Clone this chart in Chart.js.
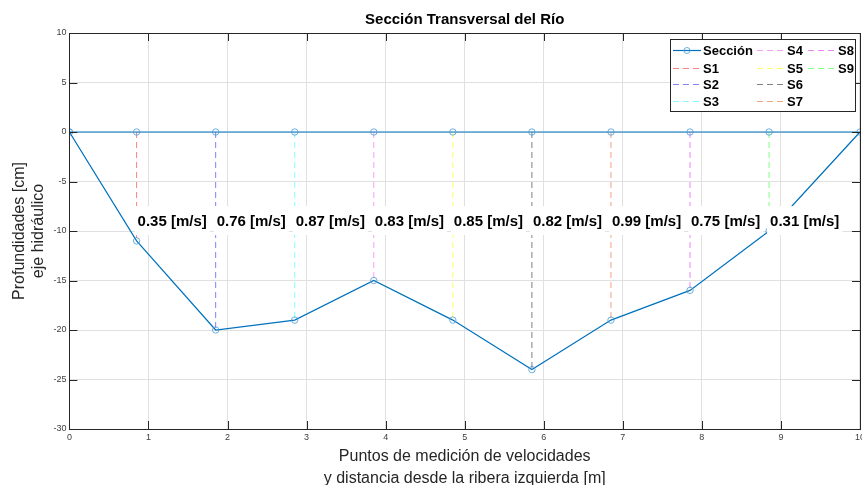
<!DOCTYPE html>
<html>
<head>
<meta charset="utf-8">
<script src="https://cdn.jsdelivr.net/npm/chart.js@4.4.1/dist/chart.umd.min.js"></script>
<style>
  html, body { margin: 0; padding: 0; overflow: hidden; background: #fff; }
  canvas { display: block; }
</style>
</head>
<body>
<canvas id="chart" width="868" height="485"></canvas>
<script>
// Measuring stations across the river section
const stationNames = ['S1', 'S2', 'S3', 'S4', 'S5', 'S6', 'S7', 'S8', 'S9'];
const stationX = [0.85, 1.85, 2.85, 3.85, 4.85, 5.85, 6.85, 7.85, 8.85];      // m from left bank
const stationDepth = [-11, -20, -19, -15, -19, -24, -19, -16, -10];           // cm below water surface
const velocities = [0.35, 0.76, 0.87, 0.83, 0.85, 0.82, 0.99, 0.75, 0.31];     // m/s
const bankX = [0, 10];                                                           // left / right bank
const stationColors = ['#ff8080', '#8080ff', '#80ffff', '#f4a0f4', '#ffff66',
                       '#808080', '#f5a47c', '#e888f0', '#80ff80'];

const FONT = "'Liberation Sans', Arial, Helvetica, sans-serif";
const AXIS_COLOR = '#262626';
const SECTION_COLOR = '#0072BD';
const LABEL_DEPTH = -9;   // depth at which the velocity labels are written

// Section outline: along the bed from bank to bank, then back along the surface
const bedPoints = [{ x: bankX[0], y: 0 }]
  .concat(stationX.map((x, i) => ({ x, y: stationDepth[i] })))
  .concat([{ x: bankX[1], y: 0 }]);
const surfacePoints = stationX.slice().reverse().map(x => ({ x, y: 0 }))
  .concat([{ x: bankX[0], y: 0 }]);
const sectionPoints = bedPoints.concat(surfacePoints);

const datasets = [{
  label: 'Sección',
  data: sectionPoints,
  showLine: true,
  borderColor: SECTION_COLOR,
  borderWidth: 1.2,
  pointStyle: 'circle',
  pointRadius: 3.2,
  pointBorderWidth: 0.8,
  pointBorderColor: '#4a9ad6',
  pointBackgroundColor: 'rgba(0,0,0,0)',
  tension: 0
}];
stationNames.forEach((name, i) => {
  datasets.push({
    label: name,
    data: [{ x: stationX[i], y: 0 }, { x: stationX[i], y: stationDepth[i] }],
    showLine: true,
    borderColor: stationColors[i],
    borderWidth: 1,
    borderDash: [6, 4],
    pointRadius: 0,
    pointHoverRadius: 0
  });
});

// Axes frame with inward tick marks on all four sides
const framePlugin = {
  id: 'frame',
  afterDraw(chart) {
    const { ctx, chartArea: a, scales: { x, y } } = chart;
    const len = 8;
    ctx.save();
    ctx.strokeStyle = AXIS_COLOR;
    ctx.lineWidth = 1;
    ctx.beginPath();
    x.ticks.forEach(t => {
      const px = Math.round(x.getPixelForValue(t.value)) + 0.5;
      ctx.moveTo(px, a.bottom); ctx.lineTo(px, a.bottom - len);
      ctx.moveTo(px, a.top); ctx.lineTo(px, a.top + len);
    });
    y.ticks.forEach(t => {
      const py = Math.round(y.getPixelForValue(t.value)) + 0.5;
      ctx.moveTo(a.left, py); ctx.lineTo(a.left + len, py);
      ctx.moveTo(a.right, py); ctx.lineTo(a.right - len, py);
    });
    ctx.stroke();
    ctx.strokeRect(Math.round(a.left) + 0.5, Math.round(a.top) + 0.5,
                   Math.round(a.right - a.left), Math.round(a.bottom - a.top));
    ctx.restore();
  }
};

// Velocity labels with white background at each station
const labelPlugin = {
  id: 'velocityLabels',
  afterDatasetsDraw(chart) {
    const { ctx, scales: { x, y } } = chart;
    ctx.save();
    ctx.font = `bold 15px ${FONT}`;
    ctx.textBaseline = 'middle';
    ctx.textAlign = 'left';
    const py = y.getPixelForValue(LABEL_DEPTH);
    velocities.forEach((v, i) => {
      const px = x.getPixelForValue(stationX[i]);
      const text = `${v.toFixed(2)} [m/s]`;
      const w = ctx.measureText(text).width;
      ctx.fillStyle = '#ffffff';
      ctx.fillRect(px - 2, py - 15, w + 6, 29);
      ctx.fillStyle = '#000000';
      ctx.fillText(text, px + 1, py + 1);
    });
    ctx.restore();
  }
};

// Three-column legend box in the upper right corner
const legendPlugin = {
  id: 'gridLegend',
  afterDraw(chart) {
    const { ctx, chartArea: a } = chart;
    const boxL = a.right - 190, boxT = a.top + 6, boxW = 185, boxH = 72;
    const columns = [[0, 1, 2, 3], [4, 5, 6, 7], [8, 9]];
    const colX = [boxL + 3, boxL + 87, boxL + 138];
    const sampleW = 28;
    const rowY = [boxT + 11, boxT + 29, boxT + 45, boxT + 62];
    ctx.save();
    ctx.fillStyle = '#ffffff';
    ctx.fillRect(boxL, boxT, boxW, boxH);
    ctx.strokeStyle = AXIS_COLOR;
    ctx.lineWidth = 1;
    ctx.strokeRect(Math.round(boxL) + 0.5, Math.round(boxT) + 0.5, boxW, boxH);
    ctx.font = `bold 13px ${FONT}`;
    ctx.textBaseline = 'middle';
    columns.forEach((col, c) => {
      col.forEach((di, r) => {
        const ds = chart.data.datasets[di];
        const lx = colX[c], ly = Math.round(rowY[r]) + 0.5;
        ctx.strokeStyle = ds.borderColor;
        ctx.lineWidth = ds.borderWidth;
        ctx.setLineDash(ds.borderDash || []);
        ctx.beginPath();
        ctx.moveTo(lx, ly); ctx.lineTo(lx + sampleW, ly);
        ctx.stroke();
        ctx.setLineDash([]);
        if (di === 0) {
          ctx.strokeStyle = ds.pointBorderColor;
          ctx.lineWidth = ds.pointBorderWidth;
          ctx.beginPath();
          ctx.arc(lx + sampleW / 2, ly, 3, 0, Math.PI * 2);
          ctx.stroke();
        }
        ctx.fillStyle = '#000000';
        ctx.fillText(ds.label, lx + sampleW + 2, ly + 1);
      });
    });
    ctx.restore();
  }
};

new Chart(document.getElementById('chart'), {
  type: 'scatter',
  data: { datasets },
  plugins: [labelPlugin, framePlugin, legendPlugin],
  options: {
    responsive: false,
    devicePixelRatio: 1,
    animation: false,
    events: [],
    layout: { padding: { left: 10, right: 0, top: 0, bottom: -4 } },
    plugins: {
      legend: { display: false },
      tooltip: { enabled: false },
      title: {
        display: true,
        fullSize: false,
        text: 'Sección Transversal del Río',
        color: '#000000',
        font: { family: FONT, size: 15, weight: 'bold' },
        padding: { top: 11, bottom: 4 }
      }
    },
    scales: {
      x: {
        type: 'linear',
        min: 0, max: 10,
        ticks: { stepSize: 1, color: '#404040', font: { family: FONT, size: 9 }, padding: 3, maxRotation: 0 },
        grid: { color: '#e0e0e0', lineWidth: 1, drawTicks: false },
        border: { display: false },
        title: {
          display: true,
          text: ['Puntos de medición de velocidades', 'y distancia desde la ribera izquierda [m]'],
          color: AXIS_COLOR,
          font: { family: FONT, size: 16, lineHeight: 1.35 },
          padding: { top: 0, bottom: 0 }
        }
      },
      y: {
        type: 'linear',
        min: -30, max: 10,
        ticks: { stepSize: 5, color: '#404040', font: { family: FONT, size: 9 }, padding: 3 },
        grid: { color: '#e0e0e0', lineWidth: 1, drawTicks: false },
        border: { display: false },
        title: {
          display: true,
          text: ['Profundidades [cm]', 'eje hidráulico'],
          color: AXIS_COLOR,
          font: { family: FONT, size: 16, lineHeight: 1.2 },
          padding: { top: 0, bottom: 2 }
        }
      }
    }
  }
});
</script>
</body>
</html>
